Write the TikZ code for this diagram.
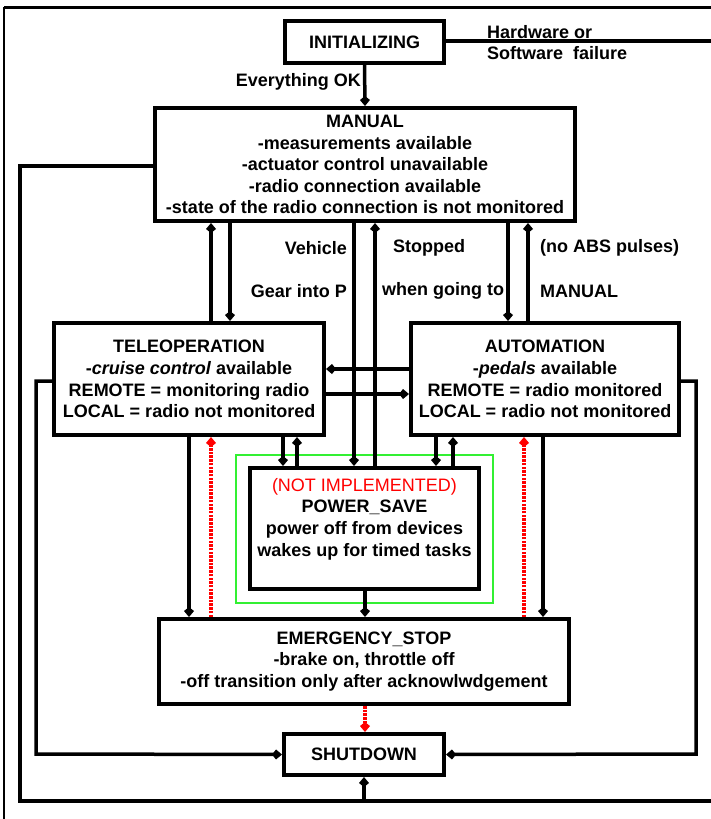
\documentclass[tikz,border=0pt]{standalone}
\usepackage{fontspec}
\setmainfont{Liberation Sans}
\usetikzlibrary{arrows.meta}
\definecolor{psgreen}{RGB}{50,240,50}
\begin{document}
\begin{tikzpicture}[x=1pt,y=-1pt,
  every node/.style={font=\fontsize{18}{21.6}\selectfont\bfseries},
  box/.style={draw,line width=4pt,rectangle,inner sep=0pt,align=center},
  conn/.style={line width=3.5pt,-{Kite[length=10pt,width=10pt,inset=4pt]}},
  plain/.style={line width=3.5pt},
  redc/.style={red,line width=3.2pt,dash pattern=on 2.5pt off 1.2pt,-{Kite[length=10pt,width=10pt,inset=4pt]}},
  lab/.style={inner sep=0pt}]
\useasboundingbox (0,0) rectangle (711,819);
\fill[white] (0,0) rectangle (711,819);
% frame
\draw[line width=3pt] (4,7) -- (711,7);
\draw[line width=1.5pt] (4,7) -- (4,819);
% states
\node[box,minimum width=159pt,minimum height=42pt] (init) at (364.5,42) {INITIALIZING};
\node[box,minimum width=420pt,minimum height=113pt] (manual) at (365,164.5) {MANUAL\\-measurements available\\-actuator control unavailable\\-radio connection available\\-state of the radio connection is not monitored};
\node[box,minimum width=270pt,minimum height=112pt] (teleop) at (189,379) {TELEOPERATION\\-\textit{cruise control} available\\REMOTE = monitoring radio\\LOCAL = radio not monitored};
\node[box,minimum width=268pt,minimum height=112pt] (auto) at (545,379) {AUTOMATION\\-\textit{pedals} available\\REMOTE = radio monitored\\LOCAL = radio not monitored};
\node[draw=psgreen,line width=1.4pt,minimum width=257pt,minimum height=148pt,inner sep=0pt] (green) at (364.5,529) {};
\node[box,minimum width=229pt,minimum height=121pt] (ps) at (364.5,528.5) {};
\node[lab,align=center] (pstext) at (364.5,519) {\textcolor{red}{\mdseries (NOT IMPLEMENTED)}\\POWER\_SAVE\\power off from devices\\wakes up for timed tasks};
\node[box,minimum width=410pt,minimum height=85pt] (estop) at (364,661.5) {EMERGENCY\_STOP\\-brake on, throttle off\\-off transition only after acknowlwdgement};
\node[box,minimum width=160pt,minimum height=41pt] (shut) at (364,754.5) {SHUTDOWN};
% labels
\node[lab,anchor=east] (ok) at (361,82) {Everything OK};
\node[lab,anchor=west] (hw) at (487,32) {Hardware or};
\node[lab,anchor=west] (sw) at (487,53) {Software\ \ failure};
\node[lab,anchor=east] (veh) at (347,248) {Vehicle};
\node[lab,anchor=east] (gear) at (347,291) {Gear into P};
\node[lab,anchor=west] (stop) at (393,248) {Stopped};
\node[lab,anchor=west] (when) at (382,291) {when going to};
\node[lab,anchor=west] (abs) at (540,248) {(no ABS pulses)};
\node[lab,anchor=west] (man2) at (540,291) {MANUAL};
% connectors
\draw[conn] (init.south) -- (manual.north);
\draw[plain] (init.east |- 0,41) -- (711,41);
\draw[plain] (manual.west |- 0,166) -| (20,801) -- (711,801);
\draw[conn] (shut.south |- 0,801) -- (shut.south);
\draw[conn] (teleop.north -| 211,0) -- (manual.south -| 211,0);
\draw[conn] (manual.south -| 230,0) -- (teleop.north -| 230,0);
\draw[conn] (manual.south -| 354,0) -- (ps.north -| 354,0);
\draw[conn] (ps.north -| 375,0) -- (manual.south -| 375,0);
\draw[conn] (manual.south -| 508,0) -- (auto.north -| 508,0);
\draw[conn] (auto.north -| 528,0) -- (manual.south -| 528,0);
\draw[conn] (auto.west |- 0,369) -- (teleop.east |- 0,369);
\draw[conn] (teleop.east |- 0,394) -- (auto.west |- 0,394);
\draw[conn] (teleop.west |- 0,381) -| (36,754) -- (shut.west);
\draw[conn] (auto.east |- 0,381) -| (696,754) -- (shut.east);
\draw[conn] (teleop.south -| 189,0) -- (estop.north -| 189,0);
\draw[redc] (estop.north -| 211,0) -- (teleop.south -| 211,0);
\draw[conn] (teleop.south -| 283,0) -- (ps.north -| 283,0);
\draw[conn] (ps.north -| 297,0) -- (teleop.south -| 297,0);
\draw[conn] (auto.south -| 436,0) -- (ps.north -| 436,0);
\draw[conn] (ps.north -| 453,0) -- (auto.south -| 453,0);
\draw[redc] (estop.north -| 524,0) -- (auto.south -| 524,0);
\draw[conn] (auto.south -| 543,0) -- (estop.north -| 543,0);
\draw[conn] (ps.south -| 365,0) -- (estop.north -| 365,0);
\draw[redc] (estop.south -| 365,0) -- (shut.north -| 365,0);
\end{tikzpicture}
\end{document}
